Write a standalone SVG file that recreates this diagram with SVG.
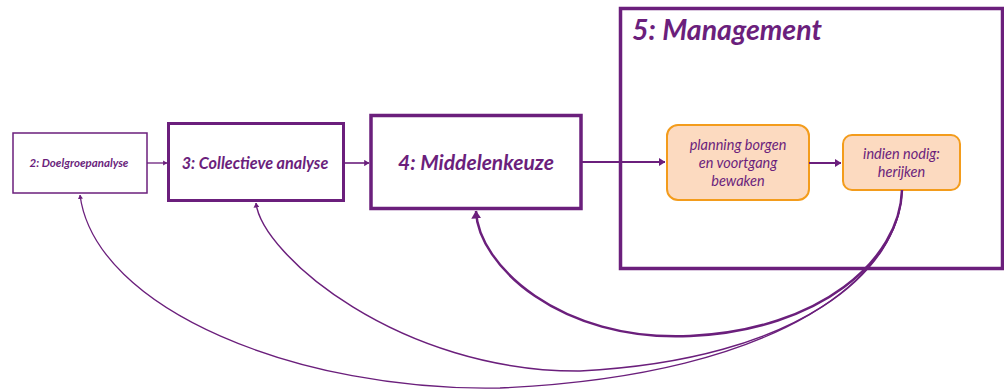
<svg xmlns="http://www.w3.org/2000/svg" width="1004" height="389" viewBox="0 0 1004 389">
  <style>
    .box { fill: #ffffff; stroke: #6b1f7c; }
    .step { fill: #fcdac0; stroke: #f39c1c; stroke-width: 2; }
    .lbl { font-family: Lato, "Open Sans", sans-serif; font-style: italic; font-weight: bold; fill: #6b1f7c; text-anchor: middle; }
    .sub { font-family: Lato, "Open Sans", sans-serif; font-style: italic; fill: #6b1f7c; text-anchor: middle; font-size: 14.5px; }
    .link { fill: none; stroke: #6b1f7c; marker-end: url(#head); }
  </style>
  <defs>
    <marker id="head" viewBox="0 0 8 10" refX="7.5" refY="5" markerWidth="3.2" markerHeight="4" orient="auto" markerUnits="strokeWidth">
      <path d="M0,0 L8,5 L0,10 Z" fill="#6b1f7c"/>
    </marker>
  </defs>

  <!-- management frame -->
  <g id="management">
    <rect class="box" x="620.5" y="8.5" width="382" height="260" stroke-width="3.5"/>
    <text class="lbl" x="632" y="40" font-size="28.5" style="text-anchor:start">5: Management</text>
  </g>

  <g id="doelgroepanalyse">
    <rect class="box" x="13" y="133" width="134" height="60" stroke-width="1.5"/>
    <text class="lbl" x="79" y="166.5" font-size="11.5">2: Doelgroepanalyse</text>
  </g>

  <g id="collectieve-analyse">
    <rect class="box" x="168.5" y="123.5" width="175" height="77" stroke-width="3"/>
    <text class="lbl" x="255" y="168.5" font-size="16.2">3: Collectieve analyse</text>
  </g>

  <g id="middelenkeuze">
    <rect class="box" x="371" y="115.5" width="210" height="93" stroke-width="3.5"/>
    <text class="lbl" x="476" y="170" font-size="21">4: Middelenkeuze</text>
  </g>

  <g id="planning">
    <rect class="step" x="667" y="125" width="142" height="75" rx="11"/>
    <text class="sub" x="738" y="150">planning borgen</text>
    <text class="sub" x="738" y="168">en voortgang</text>
    <text class="sub" x="738" y="186">bewaken</text>
  </g>

  <g id="herijken">
    <rect class="step" x="843" y="135" width="117" height="55" rx="9"/>
    <text class="sub" x="901.5" y="159">indien nodig:</text>
    <text class="sub" x="901.5" y="177">herijken</text>
  </g>

  <g id="connectors">
    <path class="link" d="M147,163 L167,163" stroke-width="1.3"/>
    <path class="link" d="M343,163 L369,163" stroke-width="1.6"/>
    <path class="link" d="M581,162 L665,162" stroke-width="2"/>
    <path class="link" d="M809,163 L841,163" stroke-width="2"/>
    <!-- feedback loops from "herijken" -->
    <path class="link" d="M902,190 C900,260 820,330 690,336 C560,342 478,265 476,211" stroke-width="2.5"/>
    <path class="link" d="M902,190 C900,270 800,360 580,371 C400,372 262,255 256,203" stroke-width="1.5"/>
    <path class="link" d="M902,190 C900,272 790,375 500,388 C300,392 95,310 80,195" stroke-width="1.3"/>
  </g>
</svg>
